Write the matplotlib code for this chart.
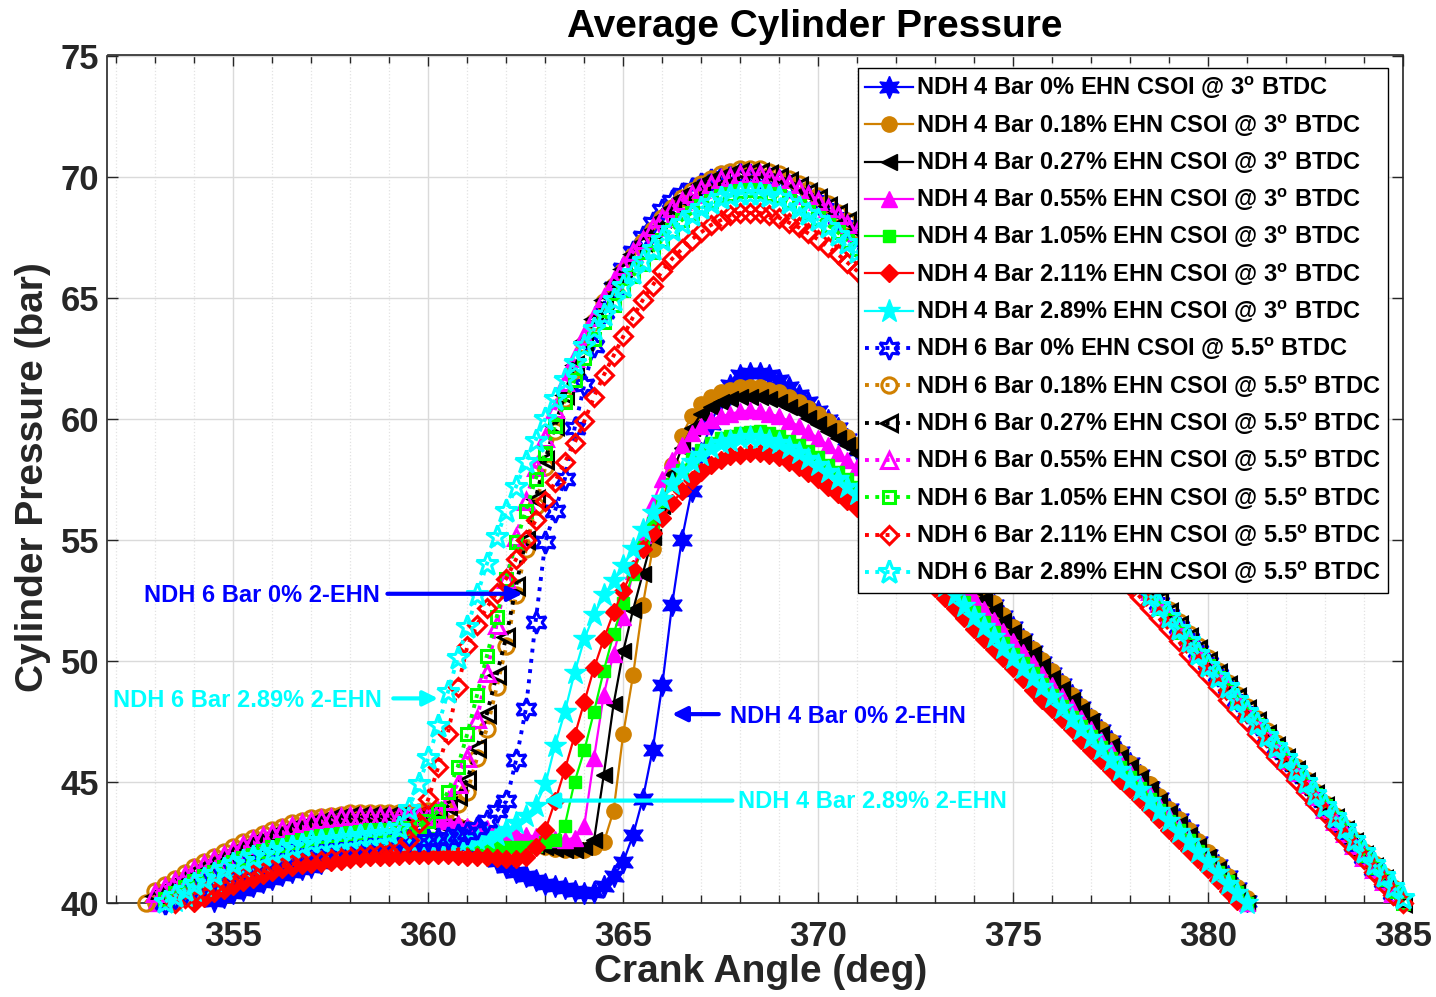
import matplotlib
matplotlib.use("Agg")
import matplotlib.pyplot as plt
import numpy as np

# Crank angle step of the averaged traces (deg) and first sample of each group
ca_step = 0.25
ca_start_4bar = 353.0
ca_start_6bar = 352.5

# ---- NDH 4 Bar, CSOI @ 3 deg BTDC (bar), 353.0 ... 381.5 deg ----
p4_000 = [39.3, 39.45, 39.6, 39.7, 39.8, 39.95, 40.1, 40.25,
          40.4, 40.55, 40.7, 40.85, 41.0, 41.15, 41.3, 41.4,
          41.5, 41.65, 41.8, 41.9, 42.0, 42.1, 42.2, 42.3,
          42.4, 42.45, 42.5, 42.55, 42.6, 42.6, 42.6, 42.5,
          42.4, 42.2, 42.0, 41.75, 41.5, 41.3, 41.1, 40.95,
          40.8, 40.7, 40.6, 40.5, 40.4, 40.45, 40.7, 41.1,
          41.7, 42.8, 44.3, 46.3, 49.0, 52.3, 55.0, 57.0,
          58.6, 59.8, 60.8, 61.4, 61.8, 61.9, 61.9, 61.8,
          61.6, 61.3, 61.0, 60.7, 60.3, 59.95, 59.6, 59.15,
          58.7, 58.25, 57.8, 57.35, 56.9, 56.45, 56.0, 55.55,
          55.1, 54.6, 54.1, 53.65, 53.2, 52.75, 52.3, 51.85,
          51.4, 50.9, 50.4, 49.95, 49.5, 49.05, 48.6, 48.1,
          47.6, 47.15, 46.7, 46.25, 45.8, 45.3, 44.8, 44.35,
          43.9, 43.45, 43.0, 42.5, 42.0, 41.55, 41.1, 40.6,
          40.1, 39.65, 39.2]
p4_018 = [40.0, 40.25, 40.5, 40.75, 41.0, 41.25, 41.5, 41.7,
          41.9, 42.1, 42.3, 42.5, 42.7, 42.85, 43.0, 43.1,
          43.2, 43.3, 43.4, 43.45, 43.5, 43.55, 43.6, 43.6,
          43.6, 43.6, 43.6, 43.55, 43.5, 43.4, 43.3, 43.2,
          43.1, 43.0, 42.9, 42.8, 42.7, 42.6, 42.5, 42.4,
          42.3, 42.25, 42.2, 42.2, 42.2, 42.3, 42.5, 43.8,
          47.0, 49.4, 52.3, 54.6, 56.5, 58.1, 59.3, 60.1,
          60.6, 60.9, 61.1, 61.2, 61.3, 61.3, 61.3, 61.2,
          61.1, 60.9, 60.7, 60.45, 60.2, 59.9, 59.6, 59.25,
          58.9, 58.45, 58.0, 57.5, 57.0, 56.55, 56.1, 55.65,
          55.2, 54.7, 54.2, 53.75, 53.3, 52.85, 52.4, 51.9,
          51.4, 50.95, 50.5, 50.05, 49.6, 49.1, 48.6, 48.15,
          47.7, 47.2, 46.7, 46.25, 45.8, 45.35, 44.9, 44.4,
          43.9, 43.45, 43.0, 42.55, 42.1, 41.6, 41.1, 40.65,
          40.2, 39.75, 39.3]
p4_027 = [39.9, 40.15, 40.4, 40.65, 40.9, 41.15, 41.4, 41.6,
          41.8, 42.0, 42.2, 42.4, 42.6, 42.75, 42.9, 43.0,
          43.1, 43.2, 43.3, 43.35, 43.4, 43.45, 43.5, 43.5,
          43.5, 43.5, 43.5, 43.45, 43.4, 43.3, 43.2, 43.1,
          43.0, 42.9, 42.8, 42.7, 42.6, 42.5, 42.4, 42.35,
          42.3, 42.25, 42.2, 42.2, 42.3, 42.6, 45.3, 48.2,
          50.4, 52.1, 53.6, 55.1, 56.4, 57.7, 58.8, 59.6,
          60.2, 60.5, 60.7, 60.8, 60.9, 60.9, 60.9, 60.8,
          60.7, 60.5, 60.3, 60.05, 59.8, 59.5, 59.2, 58.9,
          58.6, 58.15, 57.7, 57.2, 56.7, 56.25, 55.8, 55.35,
          54.9, 54.45, 54.0, 53.5, 53.0, 52.55, 52.1, 51.65,
          51.2, 50.75, 50.3, 49.8, 49.3, 48.85, 48.4, 47.95,
          47.5, 47.0, 46.5, 46.05, 45.6, 45.15, 44.7, 44.2,
          43.7, 43.25, 42.8, 42.35, 41.9, 41.4, 40.9, 40.45,
          40.0, 39.55, 39.1]
p4_055 = [40.0, 40.25, 40.5, 40.75, 41.0, 41.25, 41.5, 41.7,
          41.9, 42.1, 42.3, 42.45, 42.6, 42.75, 42.9, 43.0,
          43.1, 43.2, 43.3, 43.35, 43.4, 43.45, 43.5, 43.5,
          43.5, 43.5, 43.5, 43.5, 43.5, 43.45, 43.4, 43.3,
          43.2, 43.15, 43.1, 43.0, 42.9, 42.85, 42.8, 42.75,
          42.7, 42.65, 42.6, 42.7, 43.2, 46.0, 48.6, 50.3,
          51.8, 53.7, 55.2, 56.5, 57.5, 58.3, 58.9, 59.4,
          59.7, 59.95, 60.1, 60.2, 60.3, 60.35, 60.3, 60.2,
          60.1, 59.9, 59.7, 59.45, 59.2, 58.9, 58.6, 58.3,
          58.0, 57.55, 57.1, 56.65, 56.2, 55.75, 55.3, 54.85,
          54.4, 53.95, 53.5, 53.05, 52.6, 52.15, 51.7, 51.25,
          50.8, 50.35, 49.9, 49.45, 49.0, 48.55, 48.1, 47.65,
          47.2, 46.75, 46.3, 45.85, 45.4, 44.95, 44.5, 44.05,
          43.6, 43.15, 42.7, 42.25, 41.8, 41.35, 40.9, 40.45,
          40.0, 39.55, 39.1]
p4_105 = [39.8, 40.05, 40.3, 40.5, 40.7, 40.9, 41.1, 41.3,
          41.5, 41.65, 41.8, 41.95, 42.1, 42.2, 42.3, 42.4,
          42.5, 42.55, 42.6, 42.65, 42.7, 42.75, 42.8, 42.8,
          42.8, 42.8, 42.8, 42.75, 42.7, 42.65, 42.6, 42.55,
          42.5, 42.45, 42.4, 42.35, 42.3, 42.3, 42.3, 42.35,
          42.5, 42.6, 43.2, 45.0, 46.3, 47.9, 49.6, 51.1,
          52.4, 53.6, 54.7, 55.7, 56.6, 57.3, 57.9, 58.35,
          58.7, 59.0, 59.2, 59.3, 59.4, 59.45, 59.5, 59.4,
          59.3, 59.1, 58.9, 58.65, 58.4, 58.1, 57.8, 57.5,
          57.2, 56.75, 56.3, 55.9, 55.5, 55.05, 54.6, 54.2,
          53.8, 53.35, 52.9, 52.45, 52.0, 51.6, 51.2, 50.75,
          50.3, 49.9, 49.5, 49.05, 48.6, 48.15, 47.7, 47.3,
          46.9, 46.45, 46.0, 45.6, 45.2, 44.75, 44.3, 43.85,
          43.4, 43.0, 42.6, 42.15, 41.7, 41.3, 40.9, 40.45,
          40.0, 39.55, 39.1]
p4_211 = [39.3, 39.5, 39.7, 39.85, 40.0, 40.2, 40.4, 40.55,
          40.7, 40.85, 41.0, 41.15, 41.3, 41.4, 41.5, 41.55,
          41.6, 41.65, 41.7, 41.75, 41.8, 41.85, 41.9, 41.9,
          41.9, 41.95, 42.0, 42.0, 42.0, 42.0, 42.0, 41.95,
          41.9, 41.9, 41.9, 41.85, 41.8, 41.8, 41.9, 42.3,
          43.0, 44.2, 45.5, 46.9, 48.3, 49.7, 50.9, 52.0,
          52.9, 53.8, 54.6, 55.3, 55.9, 56.5, 57.0, 57.45,
          57.8, 58.1, 58.3, 58.45, 58.5, 58.6, 58.6, 58.5,
          58.4, 58.2, 58.0, 57.75, 57.5, 57.2, 56.9, 56.6,
          56.3, 55.9, 55.5, 55.05, 54.6, 54.2, 53.8, 53.4,
          53.0, 52.6, 52.2, 51.75, 51.3, 50.9, 50.5, 50.1,
          49.7, 49.25, 48.8, 48.4, 48.0, 47.6, 47.2, 46.75,
          46.3, 45.9, 45.5, 45.1, 44.7, 44.3, 43.9, 43.45,
          43.0, 42.6, 42.2, 41.8, 41.4, 40.95, 40.5, 40.1,
          39.7, 39.3, 38.9]
p4_289 = [39.6, 39.85, 40.1, 40.3, 40.5, 40.7, 40.9, 41.1,
          41.3, 41.45, 41.6, 41.75, 41.9, 42.0, 42.1, 42.2,
          42.3, 42.35, 42.4, 42.45, 42.5, 42.55, 42.6, 42.6,
          42.6, 42.6, 42.6, 42.6, 42.6, 42.6, 42.6, 42.6,
          42.6, 42.65, 42.7, 42.8, 43.0, 43.3, 43.6, 44.0,
          44.9, 46.5, 47.9, 49.5, 50.9, 51.9, 52.7, 53.3,
          53.9, 54.6, 55.4, 56.1, 56.7, 57.3, 57.8, 58.2,
          58.5, 58.8, 59.0, 59.1, 59.2, 59.25, 59.2, 59.1,
          59.0, 58.8, 58.6, 58.35, 58.1, 57.8, 57.5, 57.2,
          56.9, 56.5, 56.1, 55.65, 55.2, 54.8, 54.4, 53.95,
          53.5, 53.1, 52.7, 52.25, 51.8, 51.4, 51.0, 50.55,
          50.1, 49.7, 49.3, 48.9, 48.5, 48.05, 47.6, 47.2,
          46.8, 46.35, 45.9, 45.5, 45.1, 44.65, 44.2, 43.8,
          43.4, 42.95, 42.5, 42.1, 41.7, 41.25, 40.8, 40.4,
          40.0, 39.55, 39.1]

# ---- NDH 6 Bar, CSOI @ 5.5 deg BTDC (bar), 352.5 ... 385.5 deg ----
p6_000 = [39.2, 39.5,
          39.8, 40.0, 40.2, 40.4, 40.6, 40.8, 41.0, 41.15,
          41.3, 41.45, 41.6, 41.7, 41.8, 41.9, 42.0, 42.1,
          42.2, 42.25, 42.3, 42.35, 42.4, 42.45, 42.5, 42.5,
          42.5, 42.55, 42.6, 42.6, 42.6, 42.65, 42.7, 42.8,
          42.9, 43.1, 43.4, 43.8, 44.2, 45.9, 48.0, 51.6,
          54.9, 56.2, 57.5, 59.6, 61.4, 63.0, 64.4, 65.4,
          66.2, 66.9, 67.5, 68.1, 68.6, 69.0, 69.3, 69.5,
          69.7, 69.85, 70.0, 70.05, 70.1, 70.05, 70.0, 69.9,
          69.8, 69.6, 69.4, 69.2, 69.0, 68.65, 68.3, 67.95,
          67.6, 67.2, 66.8, 66.35, 65.9, 65.4, 64.9, 64.4,
          63.9, 63.4, 62.9, 62.4, 61.9, 61.4, 60.9, 60.4,
          59.9, 59.4, 58.9, 58.4, 57.9, 57.4, 56.9, 56.4,
          55.9, 55.4, 54.9, 54.4, 53.9, 53.4, 52.9, 52.4,
          51.9, 51.4, 50.9, 50.4, 49.9, 49.4, 48.9, 48.4,
          47.9, 47.4, 46.9, 46.4, 45.9, 45.4, 44.9, 44.4,
          43.9, 43.4, 42.9, 42.4, 41.9, 41.4, 40.9, 40.4,
          39.9, 39.4, 38.9]
p6_018 = [39.5, 40.0,
          40.5, 40.75, 41.0, 41.25, 41.5, 41.7, 41.9, 42.1,
          42.3, 42.5, 42.7, 42.85, 43.0, 43.15, 43.3, 43.4,
          43.5, 43.55, 43.6, 43.65, 43.7, 43.7, 43.7, 43.7,
          43.7, 43.7, 43.7, 43.75, 43.8, 43.8, 43.9, 44.1,
          44.6, 46.0, 47.2, 48.9, 50.6, 52.7, 54.6, 56.4,
          58.0, 59.5, 60.8, 62.0, 63.1, 64.0, 64.8, 65.5,
          66.1, 66.7, 67.3, 67.8, 68.3, 68.7, 69.1, 69.4,
          69.7, 69.9, 70.1, 70.2, 70.3, 70.3, 70.3, 70.2,
          70.1, 69.9, 69.7, 69.45, 69.2, 68.85, 68.5, 68.15,
          67.8, 67.4, 67.0, 66.55, 66.1, 65.6, 65.1, 64.6,
          64.1, 63.6, 63.1, 62.6, 62.1, 61.6, 61.1, 60.6,
          60.1, 59.6, 59.1, 58.6, 58.1, 57.6, 57.1, 56.6,
          56.1, 55.6, 55.1, 54.6, 54.1, 53.6, 53.1, 52.6,
          52.1, 51.6, 51.1, 50.6, 50.1, 49.6, 49.1, 48.6,
          48.1, 47.6, 47.1, 46.6, 46.1, 45.6, 45.1, 44.6,
          44.1, 43.6, 43.1, 42.6, 42.1, 41.6, 41.1, 40.6,
          40.1, 39.6, 39.1]
p6_027 = [39.3, 39.8,
          40.3, 40.55, 40.8, 41.05, 41.3, 41.5, 41.7, 41.9,
          42.1, 42.3, 42.5, 42.65, 42.8, 42.95, 43.1, 43.2,
          43.3, 43.4, 43.5, 43.55, 43.6, 43.6, 43.6, 43.6,
          43.6, 43.6, 43.6, 43.65, 43.7, 43.8, 44.0, 44.4,
          45.1, 46.4, 47.8, 49.4, 51.0, 53.1, 55.0, 56.7,
          58.3, 59.7, 61.0, 62.2, 63.2, 64.1, 64.9, 65.6,
          66.2, 66.8, 67.3, 67.8, 68.3, 68.7, 69.1, 69.4,
          69.7, 69.85, 70.0, 70.1, 70.2, 70.2, 70.2, 70.1,
          70.0, 69.8, 69.6, 69.35, 69.1, 68.8, 68.5, 68.15,
          67.8, 67.4, 67.0, 66.55, 66.1, 65.55, 65.0, 64.5,
          64.0, 63.5, 63.0, 62.5, 62.0, 61.5, 61.0, 60.5,
          60.0, 59.5, 59.0, 58.5, 58.0, 57.5, 57.0, 56.5,
          56.0, 55.5, 55.0, 54.5, 54.0, 53.5, 53.0, 52.5,
          52.0, 51.5, 51.0, 50.5, 50.0, 49.5, 49.0, 48.5,
          48.0, 47.5, 47.0, 46.5, 46.0, 45.5, 45.0, 44.5,
          44.0, 43.5, 43.0, 42.5, 42.0, 41.5, 41.0, 40.5,
          40.0, 39.5, 39.0]
p6_055 = [39.4, 39.9,
          40.4, 40.65, 40.9, 41.15, 41.4, 41.6, 41.8, 42.0,
          42.2, 42.4, 42.6, 42.75, 42.9, 43.05, 43.2, 43.3,
          43.4, 43.45, 43.5, 43.55, 43.6, 43.6, 43.6, 43.6,
          43.6, 43.6, 43.6, 43.6, 43.6, 43.8, 44.2, 44.9,
          46.0, 47.6, 49.5, 51.5, 53.4, 55.1, 56.6, 58.0,
          59.2, 60.4, 61.5, 62.5, 63.4, 64.2, 65.0, 65.7,
          66.3, 66.9, 67.4, 67.9, 68.3, 68.7, 69.0, 69.3,
          69.5, 69.7, 69.9, 70.0, 70.1, 70.1, 70.1, 70.0,
          69.9, 69.7, 69.5, 69.25, 69.0, 68.7, 68.4, 68.05,
          67.7, 67.3, 66.9, 66.45, 66.0, 65.45, 64.9, 64.4,
          63.9, 63.4, 62.9, 62.4, 61.9, 61.4, 60.9, 60.4,
          59.9, 59.4, 58.9, 58.4, 57.9, 57.4, 56.9, 56.4,
          55.9, 55.4, 54.9, 54.4, 53.9, 53.4, 52.9, 52.4,
          51.9, 51.4, 50.9, 50.4, 49.9, 49.4, 48.9, 48.4,
          47.9, 47.4, 46.9, 46.4, 45.9, 45.4, 44.9, 44.4,
          43.9, 43.4, 42.9, 42.4, 41.9, 41.4, 40.9, 40.4,
          39.9, 39.4, 38.9]
p6_105 = [39.1, 39.5,
          39.9, 40.15, 40.4, 40.65, 40.9, 41.1, 41.3, 41.5,
          41.7, 41.85, 42.0, 42.15, 42.3, 42.4, 42.5, 42.6,
          42.7, 42.75, 42.8, 42.85, 42.9, 42.95, 43.0, 43.0,
          43.0, 43.05, 43.1, 43.2, 43.4, 43.8, 44.6, 45.6,
          47.0, 48.6, 50.2, 51.8, 53.4, 54.9, 56.2, 57.5,
          58.6, 59.7, 60.7, 61.6, 62.5, 63.3, 64.0, 64.7,
          65.3, 65.9, 66.4, 66.9, 67.4, 67.8, 68.2, 68.5,
          68.8, 69.0, 69.2, 69.3, 69.4, 69.45, 69.4, 69.3,
          69.2, 69.0, 68.8, 68.55, 68.3, 68.0, 67.7, 67.35,
          67.0, 66.6, 66.2, 65.75, 65.3, 64.8, 64.3, 63.85,
          63.4, 62.9, 62.4, 61.9, 61.4, 60.95, 60.4, 59.95,
          59.5, 59.0, 58.5, 58.0, 57.5, 57.05, 56.6, 56.1,
          55.6, 55.1, 54.6, 54.15, 53.7, 53.2, 52.7, 52.2,
          51.7, 51.2, 50.7, 50.25, 49.8, 49.3, 48.8, 48.3,
          47.8, 47.35, 46.9, 46.4, 45.9, 45.4, 44.9, 44.45,
          44.0, 43.5, 43.0, 42.5, 42.0, 41.5, 41.0, 40.5,
          40.0, 39.5, 39.0]
p6_211 = [39.0, 39.3,
          39.6, 39.8, 40.0, 40.2, 40.4, 40.55, 40.7, 40.85,
          41.0, 41.1, 41.2, 41.3, 41.4, 41.5, 41.6, 41.65,
          41.7, 41.75, 41.8, 41.85, 41.9, 41.95, 42.0, 42.05,
          42.1, 42.2, 42.6, 43.3, 44.3, 45.6, 47.0, 48.9,
          50.6, 51.5, 52.2, 52.8, 53.4, 54.2, 55.0, 55.8,
          56.6, 57.4, 58.2, 59.0, 59.9, 60.9, 61.8, 62.6,
          63.4, 64.2, 64.9, 65.5, 66.1, 66.6, 67.0, 67.4,
          67.7, 68.0, 68.2, 68.4, 68.5, 68.5, 68.5, 68.4,
          68.3, 68.1, 67.9, 67.65, 67.4, 67.1, 66.8, 66.45,
          66.1, 65.7, 65.3, 64.9, 64.5, 64.05, 63.6, 63.1,
          62.6, 62.15, 61.7, 61.2, 60.7, 60.25, 59.8, 59.3,
          58.8, 58.35, 57.9, 57.4, 56.9, 56.45, 56.0, 55.5,
          55.0, 54.55, 54.1, 53.6, 53.1, 52.65, 52.2, 51.75,
          51.3, 50.8, 50.3, 49.85, 49.4, 48.9, 48.4, 47.95,
          47.5, 47.0, 46.5, 46.05, 45.6, 45.1, 44.6, 44.15,
          43.7, 43.2, 42.7, 42.25, 41.8, 41.3, 40.8, 40.35,
          40.0, 39.4, 38.9]
p6_289 = [39.1, 39.4,
          39.8, 40.05, 40.3, 40.55, 40.8, 41.0, 41.2, 41.4,
          41.6, 41.75, 41.9, 42.0, 42.1, 42.2, 42.3, 42.4,
          42.5, 42.55, 42.6, 42.65, 42.7, 42.75, 42.8, 42.85,
          42.9, 43.1, 43.9, 44.9, 46.0, 47.3, 48.7, 50.1,
          51.4, 52.7, 54.0, 55.1, 56.2, 57.2, 58.2, 59.1,
          60.0, 60.8, 61.6, 62.3, 63.0, 63.7, 64.3, 64.9,
          65.5, 66.0, 66.5, 67.0, 67.4, 67.8, 68.1, 68.4,
          68.7, 68.9, 69.1, 69.2, 69.3, 69.3, 69.3, 69.2,
          69.1, 68.9, 68.7, 68.45, 68.2, 67.9, 67.6, 67.25,
          66.9, 66.5, 66.1, 65.65, 65.2, 64.7, 64.2, 63.75,
          63.3, 62.8, 62.3, 61.85, 61.4, 60.9, 60.4, 59.9,
          59.4, 58.95, 58.5, 58.0, 57.5, 57.0, 56.6, 56.1,
          55.6, 55.1, 54.6, 54.2, 53.7, 53.2, 52.7, 52.25,
          51.8, 51.3, 50.8, 50.3, 49.8, 49.35, 48.9, 48.4,
          47.9, 47.4, 46.9, 46.45, 46.0, 45.5, 45.0, 44.5,
          44.0, 43.55, 43.1, 42.6, 42.1, 41.6, 41.1, 40.65,
          40.2, 39.7, 39.2]

ehn_labels = ["0%", "0.18%", "0.27%", "0.55%", "1.05%", "2.11%", "2.89%"]
colors = ["#0000FF", "#D08000", "#000000", "#FF00FF", "#00FF00", "#FF0000", "#00FFFF"]
hexagram = (6, 1, 0)
markers = [hexagram, "o", "<", "^", "s", "D", "*"]
msizes = [16, 11, 11, 11, 9, 9, 17]

series_4 = [p4_000, p4_018, p4_027, p4_055, p4_105, p4_211, p4_289]
series_6 = [p6_000, p6_018, p6_027, p6_055, p6_105, p6_211, p6_289]

plt.rcParams["font.family"] = ["Liberation Sans", "DejaVu Sans"]
plt.rcParams["font.weight"] = "bold"
plt.rcParams["mathtext.fontset"] = "custom"
plt.rcParams["mathtext.rm"] = "Liberation Sans:bold"
plt.rcParams["mathtext.bf"] = "Liberation Sans:bold"
plt.rcParams["mathtext.it"] = "Liberation Sans:bold:italic"

Y_MIN, Y_MAX = 40, 75


def visible(p):
    # like MATLAB: samples outside the y limits are not drawn, but markers of
    # samples inside are drawn whole, even across the axes edge
    p = np.asarray(p, dtype=float)
    return np.where(p >= Y_MIN, p, np.nan)


fig = plt.figure(figsize=(14.36, 9.97), dpi=100)
ax = fig.add_axes([107.5 / 1436, 94 / 997, 1295.5 / 1436, 847.5 / 997])

# 4 bar: solid lines, filled markers
for p, c, m, ms, lab in zip(series_4, colors, markers, msizes, ehn_labels):
    ca = ca_start_4bar + ca_step * np.arange(len(p))
    ax.plot(ca, visible(p), linestyle="-", lw=1.6, color=c, marker=m, ms=ms,
            mfc=c, mec=c, mew=1.0, clip_on=False,
            label="NDH 4 Bar " + lab + r" EHN CSOI @ 3$^{\mathrm{o}}$ BTDC")

# 6 bar: dotted lines, open markers
for p, c, m, ms, lab in zip(series_6, colors, markers, msizes, ehn_labels):
    ca = ca_start_6bar + ca_step * np.arange(len(p))
    ax.plot(ca, visible(p), linestyle=":", lw=2.8, color=c, marker=m, ms=ms,
            mfc="none", mec=c, mew=2.2, clip_on=False,
            label="NDH 6 Bar " + lab + r" EHN CSOI @ 5.5$^{\mathrm{o}}$ BTDC")

ax.set_xlim(351.77, 385)
ax.set_ylim(Y_MIN, Y_MAX)
ax.set_xticks([355, 360, 365, 370, 375, 380, 385])
ax.set_xticks(np.arange(352, 386, 1), minor=True)
ax.set_yticks([40, 45, 50, 55, 60, 65, 70, 75])
ax.grid(True, which="major", color="#DADADA", lw=1.0)
ax.grid(True, which="minor", axis="x", color="#E2E2E2", lw=0.9, linestyle=":")
ax.set_axisbelow(True)
ax.tick_params(axis="both", which="both", direction="in", top=True, right=True,
               colors="#262626", width=1.0)
ax.tick_params(axis="both", which="major", length=8, labelsize=25)
ax.tick_params(axis="x", which="major", pad=12)
ax.tick_params(axis="y", which="major", pad=6)
ax.tick_params(axis="x", which="minor", length=6)
for s in ax.spines.values():
    s.set_color("#262626")
    s.set_linewidth(1.2)
    s.set_zorder(1.5)

ax.set_xlabel("Crank Angle (deg)", fontsize=28, fontweight="bold", color="#262626", va="center")
ax.xaxis.set_label_coords(0.504, -0.081)
ax.set_ylabel("Cylinder Pressure (bar)", fontsize=28, fontweight="bold", color="#262626", va="center")
ax.yaxis.set_label_coords(-0.0575, 0.502)
ax.text(0.546, 1.0335, "Average Cylinder Pressure", transform=ax.transAxes,
        ha="center", va="center", fontsize=28, fontweight="bold", color="black")

leg = ax.legend(loc="upper right", bbox_to_anchor=(0.9884, 0.9853), borderaxespad=0,
                fontsize=17, frameon=True, fancybox=False, edgecolor="black",
                framealpha=1, labelspacing=0.47, handlelength=2.0, handletextpad=0.15,
                borderpad=0.3)
leg.get_frame().set_linewidth(1.0)
leg.set_zorder(10)

# Annotations
arrow_kw = dict(arrowstyle="-|>", lw=3, mutation_scale=22, shrinkA=0, shrinkB=0)
ax.text(352.7, 52.7, "NDH 6 Bar 0% 2-EHN", color="#0000FF", fontsize=17,
        fontweight="bold", ha="left", va="center")
ax.annotate("", xy=(362.42, 52.77), xytext=(358.95, 52.77),
            arrowprops=dict(color="#0000FF", **arrow_kw))
ax.text(351.92, 48.38, "NDH 6 Bar 2.89% 2-EHN", color="#00FFFF", fontsize=17,
        fontweight="bold", ha="left", va="center")
ax.annotate("", xy=(360.25, 48.45), xytext=(359.1, 48.45),
            arrowprops=dict(color="#00FFFF", **arrow_kw))
ax.text(367.75, 47.7, "NDH 4 Bar 0% 2-EHN", color="#0000FF", fontsize=17,
        fontweight="bold", ha="left", va="center")
ax.annotate("", xy=(366.25, 47.8), xytext=(367.45, 47.8),
            arrowprops=dict(color="#0000FF", **arrow_kw))
ax.text(367.95, 44.2, "NDH 4 Bar 2.89% 2-EHN", color="#00FFFF", fontsize=17,
        fontweight="bold", ha="left", va="center")
ax.annotate("", xy=(362.95, 44.23), xytext=(367.8, 44.23),
            arrowprops=dict(color="#00FFFF", **arrow_kw))

fig.savefig("out.png", dpi=100)
